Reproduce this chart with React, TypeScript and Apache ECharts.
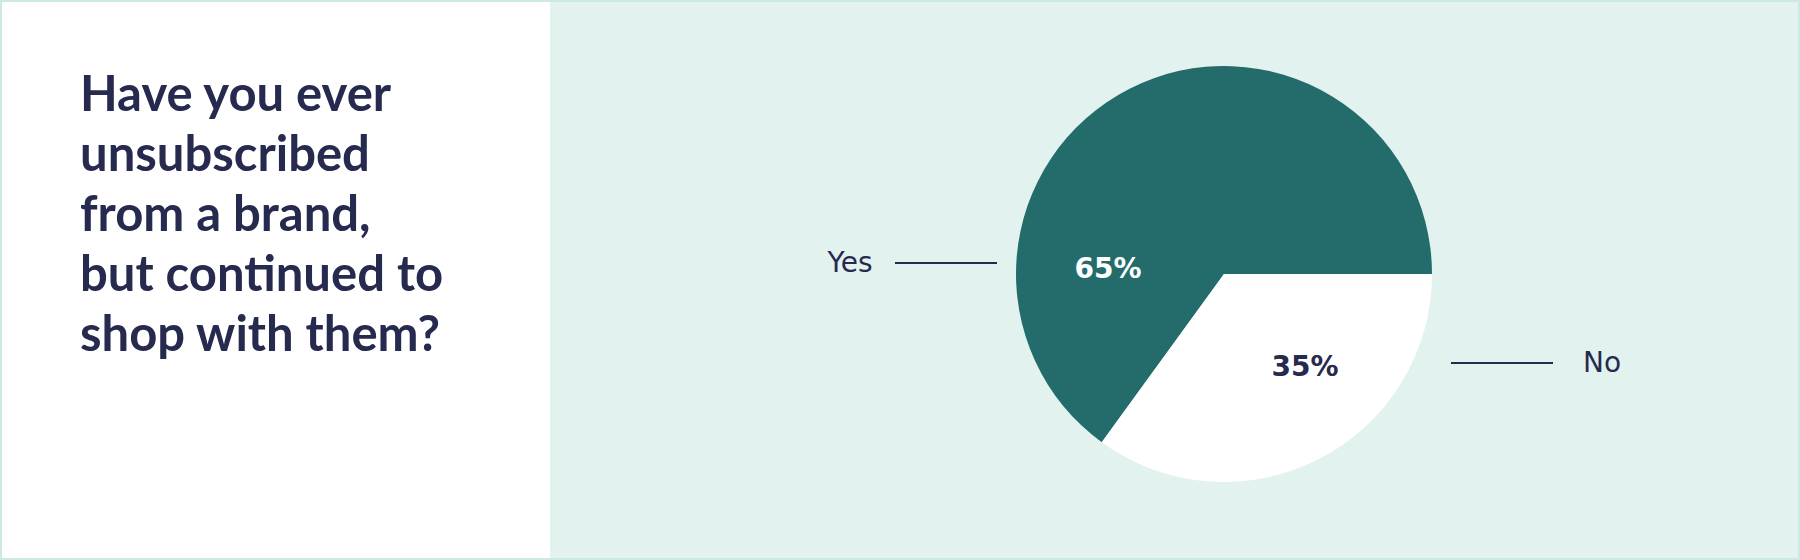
import React, { useEffect, useRef } from "react";
import * as echarts from "echarts";

const titleLines = ["Have you ever", "unsubscribed", "from a brand,", "but continued to", "shop with them?"];
const categories = ["Yes", "No"];
const values = [65, 35];
const sliceColors = ["#246c6b", "#ffffff"];
const pctColors = ["#ffffff", "#272a4f"];

const W = 1800;
const H = 560;
const CX = 1224;
const CY = 274;
const R = 208;
const NAVY = "#272a4f";

export default function App() {
  const ref = useRef<HTMLDivElement>(null);
  useEffect(() => {
    document.body.style.margin = "0";
    if (!ref.current) return;
    const chart = echarts.init(ref.current, null, { renderer: "svg" });
    const total = values.reduce((a, b) => a + b, 0);
    const data = categories.map((c, i) => ({
      name: c,
      value: values[i],
      itemStyle: { color: sliceColors[i] },
      label: { color: pctColors[i] },
    }));
    const nameLayout = [
      { x: CX - R - 166, y: CY - 12, line: [[CX - R - 19, CY - 11], [CX - R - 121, CY - 11]] },
      { x: CX + R + 170, y: CY + 88, line: [[CX + R + 19, CY + 89], [CX + R + 121, CY + 89]] },
    ];
    const pctLayout = [
      { x: CX - 116, y: CY - 6 },
      { x: CX + 81, y: CY + 92 },
    ];
    chart.setOption({
      animation: false,
      graphic: [
        { type: "rect", shape: { x: 0, y: 0, width: W, height: H }, style: { fill: "#cce9e4" }, z: -10 },
        { type: "rect", shape: { x: 2, y: 2, width: W - 4, height: H - 4 }, style: { fill: "#e2f2ee" }, z: -9 },
        { type: "rect", shape: { x: 2, y: 2, width: 548, height: H - 4 }, style: { fill: "#ffffff" }, z: -8 },
      ],
      title: {
        text: titleLines.join("\n"),
        left: 75,
        top: 57,
        textStyle: {
          fontFamily: "Lato",
          fontWeight: "bold",
          fontSize: 49,
          lineHeight: 60,
          color: NAVY,
        },
      },
      series: [
        {
          type: "pie",
          center: [CX, CY],
          radius: [0, R],
          startAngle: 0,
          clockwise: false,
          silent: true,
          data,
          label: {
            show: true,
            position: "inside",
            formatter: (p: any) => Math.round((p.value / total) * 100) + "%",
            fontFamily: "DejaVu Sans",
            fontWeight: "bold",
            fontSize: 28,
          },
          labelLine: { show: false },
          labelLayout: (p: any) => ({
            x: pctLayout[p.dataIndex].x,
            y: pctLayout[p.dataIndex].y,
            align: "center",
            verticalAlign: "middle",
          }),
        },
        {
          type: "pie",
          center: [CX, CY],
          radius: [0, R],
          startAngle: 0,
          clockwise: false,
          silent: true,
          data: categories.map((c, i) => ({ name: c, value: values[i], itemStyle: { color: "rgba(0,0,0,0)" } })),
          label: {
            show: true,
            position: "outside",
            formatter: "{b}",
            fontFamily: "DejaVu Sans",
            fontSize: 28,
            color: NAVY,
          },
          labelLine: { show: true, lineStyle: { color: NAVY, width: 2 } },
          labelLayout: (p: any) => ({
            x: nameLayout[p.dataIndex].x,
            y: nameLayout[p.dataIndex].y,
            align: "center",
            verticalAlign: "middle",
            labelLinePoints: nameLayout[p.dataIndex].line,
          }),
        },
      ],
    });
    return () => chart.dispose();
  }, []);
  return <div ref={ref} style={{ width: W, height: H, position: "absolute", left: 0, top: 0 }} />;
}
